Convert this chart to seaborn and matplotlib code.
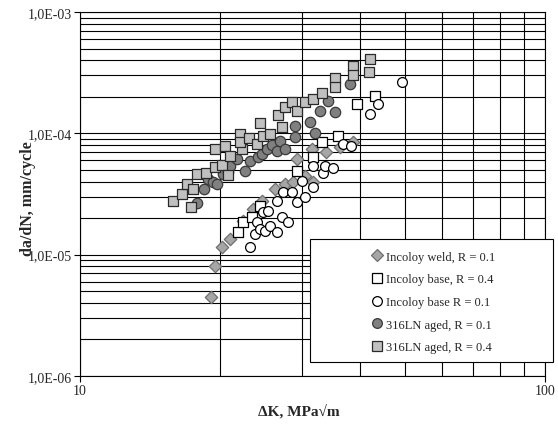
import matplotlib

matplotlib.use("Agg")

import matplotlib.pyplot as plt
import numpy as np
import pandas as pd
import seaborn as sns
from matplotlib.lines import Line2D
from matplotlib.patches import Rectangle
from matplotlib.ticker import FixedLocator, FuncFormatter, LogLocator, NullFormatter

# Incoloy weld, R = 0.1
weld_01_dk = [19.1, 19.5, 20.2, 21.0, 22.4, 23.6, 24.6, 26.3, 27.6, 28.7,
              29.3, 30.5, 31.7, 31.5, 33.8, 36.2, 38.65]
weld_01_da = [4.5e-6, 8.0e-6, 1.15e-5, 1.34e-5, 1.9e-5, 2.4e-5, 2.77e-5, 3.47e-5,
              3.8e-5, 4.0e-5, 6.1e-5, 4.45e-5, 4.0e-5, 7.4e-5, 7.0e-5, 7.7e-5, 8.5e-5]

# Incoloy base, R = 0.4
base_04_dk = [21.9, 22.4, 23.4, 24.4, 29.3, 31.7, 33.15, 35.9, 39.4, 43.1]
base_04_da = [1.54e-5, 1.86e-5, 2.04e-5, 2.52e-5, 4.9e-5, 6.4e-5, 8.5e-5, 9.5e-5,
              1.74e-4, 2.03e-4]

# Incoloy base R = 0.1
base_01_dk = [23.2, 23.8, 24.0, 24.4, 25.0, 24.75, 25.4, 25.6, 26.5, 26.5,
              27.2, 28.0, 27.3, 28.6, 29.3, 30.5, 30.0, 31.7, 31.7, 33.3,
              33.65, 35.0, 36.8, 38.3, 42.05, 43.8, 49.25]
base_01_da = [1.15e-5, 1.48e-5, 1.86e-5, 1.63e-5, 1.56e-5, 2.24e-5, 2.29e-5, 1.72e-5,
              1.54e-5, 2.77e-5, 2.04e-5, 1.86e-5, 3.28e-5, 3.28e-5, 2.71e-5, 2.98e-5,
              4.04e-5, 3.61e-5, 5.37e-5, 4.71e-5, 5.37e-5, 5.17e-5, 8.16e-5, 7.86e-5,
              1.44e-4, 1.74e-4, 2.65e-4]

# 316LN aged, R = 0.1
ln_01_dk = [17.85, 18.5, 18.85, 19.3, 19.7, 20.3, 20.8, 21.0, 21.8, 22.6,
            23.2, 24.1, 24.6, 25.25, 25.9, 26.5, 26.9, 27.6, 29.0, 29.0,
            31.2, 32.0, 32.8, 34.15, 35.35, 38.1]
ln_01_da = [2.66e-5, 3.47e-5, 4.2e-5, 3.97e-5, 3.82e-5, 4.62e-5, 4.8e-5, 5.37e-5,
            6.14e-5, 4.89e-5, 5.91e-5, 6.38e-5, 6.8e-5, 7.42e-5, 8.0e-5, 7.14e-5,
            8.64e-5, 7.42e-5, 1.15e-4, 9.32e-5, 1.24e-4, 1.0e-4, 1.53e-4, 1.85e-4,
            1.5e-4, 2.55e-4]

# 316LN aged, R = 0.4
ln_04_dk = [15.85, 16.6, 17.0, 17.3, 17.5, 17.85, 18.7, 19.5, 19.5, 20.2,
            20.5, 20.8, 21.0, 22.1, 22.3, 22.1, 23.1, 24.0, 24.4, 24.75,
            25.6, 26.7, 27.2, 27.6, 28.6, 29.3, 30.5, 31.7, 33.15, 35.35,
            35.35, 38.65, 38.65, 41.8, 42.05]
ln_04_da = [2.77e-5, 3.16e-5, 3.82e-5, 2.47e-5, 3.47e-5, 4.62e-5, 4.71e-5, 7.42e-5,
            5.27e-5, 5.48e-5, 7.86e-5, 4.53e-5, 6.5e-5, 9.87e-5, 7.42e-5, 8.48e-5,
            9.15e-5, 8.16e-5, 1.22e-4, 9.5e-5, 9.87e-5, 1.42e-4, 1.13e-4, 1.65e-4,
            1.81e-4, 1.53e-4, 1.81e-4, 1.92e-4, 2.15e-4, 2.86e-4, 2.41e-4, 3.59e-4,
            3.02e-4, 3.2e-4, 4.1e-4]

series_labels = [
    "Incoloy weld, R = 0.1",
    "Incoloy base, R = 0.4",
    "Incoloy base R = 0.1",
    "316LN aged, R = 0.1",
    "316LN aged, R = 0.4",
]

x_ticks = [10, 100]
y_ticks = [1e-6, 1e-5, 1e-4, 1e-3]

series = [
    (weld_01_dk, weld_01_da, "D", "#a6a6a6", "#6e6e6e", 40),
    (base_04_dk, base_04_da, "s", "#ffffff", "#000000", 52),
    (base_01_dk, base_01_da, "o", "#ffffff", "#000000", 50),
    (ln_01_dk, ln_01_da, "o", "#808080", "#3a3a3a", 56),
    (ln_04_dk, ln_04_da, "s", "#c0c0c0", "#2a2a2a", 54),
]

sns.set_theme(style="white")
plt.rcParams["font.family"] = ["Liberation Serif", "DejaVu Serif"]

fig = plt.figure(figsize=(5.58, 4.27), dpi=100)
ax = fig.add_axes([80 / 558, 50 / 427, 465 / 558, 364 / 427])

handles = []
for (dk, da, marker, face, edge, size), label in zip(series, series_labels):
    df = pd.DataFrame({"dK": dk, "dadN": da})
    sns.scatterplot(
        data=df,
        x="dK",
        y="dadN",
        marker=marker,
        color=face,
        edgecolor=edge,
        linewidth=0.9,
        s=size,
        ax=ax,
        legend=False,
        zorder=3,
    )
    handles.append(
        Line2D([], [], linestyle="None", marker=marker,
               markersize=7 if marker != "D" else 6,
               markerfacecolor=face, markeredgecolor=edge, markeredgewidth=0.9)
    )

ax.set_xscale("log")
ax.set_yscale("log")
ax.set_xlim(10, 100)
ax.set_ylim(1e-6, 1e-3)

ax.xaxis.set_major_locator(FixedLocator(x_ticks))
ax.yaxis.set_major_locator(FixedLocator(y_ticks))
ax.xaxis.set_minor_locator(LogLocator(base=10, subs=np.arange(2, 10)))
ax.yaxis.set_minor_locator(LogLocator(base=10, subs=np.arange(2, 10)))
ax.xaxis.set_minor_formatter(NullFormatter())
ax.yaxis.set_minor_formatter(NullFormatter())

ax.xaxis.set_major_formatter(FuncFormatter(lambda v, p: f"{v:g}"))
ax.yaxis.set_major_formatter(
    FuncFormatter(lambda v, p: "1,0E-%02d" % int(round(-np.log10(v))))
)

ax.grid(which="both", axis="both", color="black", linewidth=0.8)
ax.set_axisbelow(True)

for side in ["top", "right", "left", "bottom"]:
    ax.spines[side].set_color("black")
    ax.spines[side].set_linewidth(0.8)

ax.tick_params(which="major", direction="out", length=4, width=0.8,
               color="black", labelsize=10, pad=2,
               left=True, bottom=True)
ax.tick_params(which="minor", length=0)

ax.set_xlabel("ΔK, MPa√m", fontsize=11, fontweight="bold")
ax.set_ylabel("da/dN, mm/cycle", fontsize=11.5, fontweight="bold")
ax.yaxis.set_label_coords(-0.095, 0.49)
ax.xaxis.set_label_coords(0.47, -0.075)

box = Rectangle((310 / 558, 1 - 363 / 427), 243 / 558, 123 / 427,
                transform=fig.transFigure, facecolor="white",
                edgecolor="black", linewidth=0.8, zorder=3)
fig.add_artist(box)

leg = fig.legend(
    handles,
    series_labels,
    loc="center",
    bbox_to_anchor=(433 / 558, 1 - 303 / 427),
    frameon=False,
    fontsize=9,
    labelspacing=0.85,
    handletextpad=0.2,
    handlelength=1.0,
)
leg.set_zorder(4)

fig.savefig("out.png", dpi=100)
